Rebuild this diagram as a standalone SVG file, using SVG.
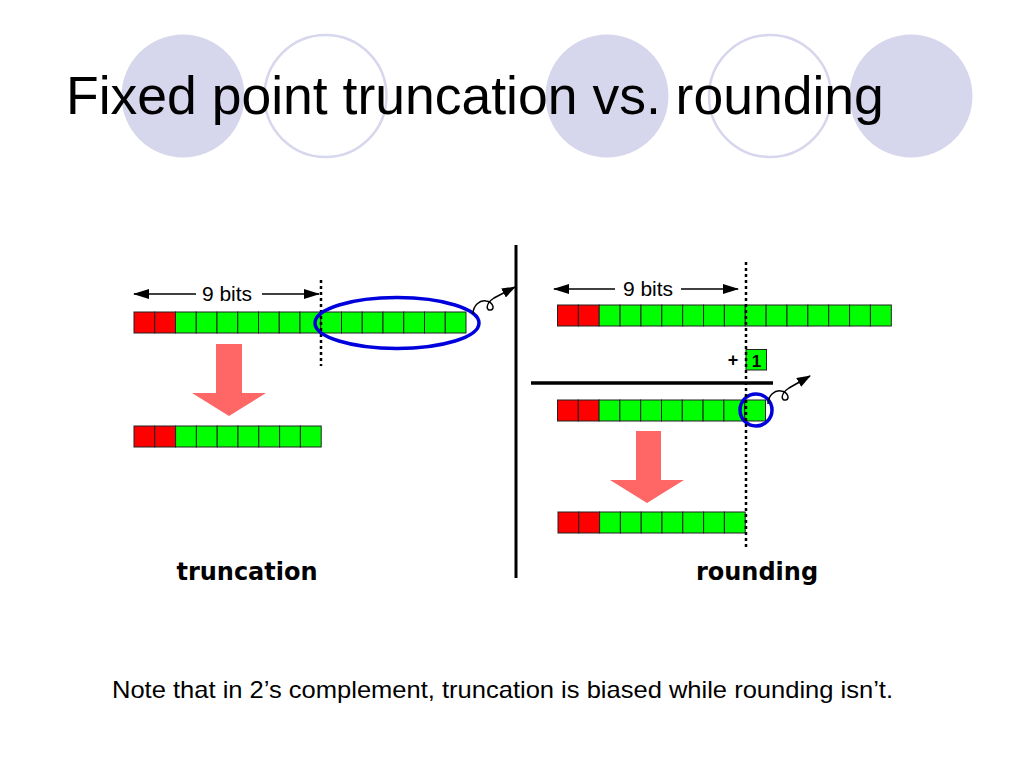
<svg xmlns="http://www.w3.org/2000/svg" width="1024" height="768" viewBox="0 0 1024 768">
<defs>
<style>
.bg{fill:#d6d6ec}
.ring{fill:none;stroke:#d6d6ec;stroke-width:2.5}
.title{font-family:"Liberation Sans",Arial,sans-serif;font-size:53.5px;fill:#000}
.note{font-family:"Liberation Sans",Arial,sans-serif;font-size:24px;fill:#000}
.bits{font-family:"Liberation Sans",Arial,sans-serif;font-size:21px;fill:#000}
.lbl{font-family:"DejaVu Sans",Verdana,sans-serif;font-size:24px;font-weight:bold;fill:#000}
.r{fill:#ff0000;stroke:#222;stroke-width:1}
.g{fill:#00ff00;stroke:#222;stroke-width:1}
.dot{stroke:#000;stroke-width:2.5;stroke-dasharray:3 3;fill:none}
.line{stroke:#000;fill:none}
.big{fill:#ff6666}
.blue{fill:none;stroke:#0000dd;stroke-width:3.5}
.curl{fill:none;stroke:#000;stroke-width:1.5}
</style>
<marker id="ah" viewBox="0 0 16 10" refX="15" refY="5" markerWidth="16" markerHeight="10" markerUnits="userSpaceOnUse" orient="auto">
<path d="M0,0 L16,5 L0,10 Z" fill="#000"/>
</marker>
<marker id="ah2" viewBox="0 0 14 10" refX="13" refY="5" markerWidth="14" markerHeight="10" markerUnits="userSpaceOnUse" orient="auto">
<path d="M0,0 L14,5 L0,10 Z" fill="#000"/>
</marker>
<g id="cells16">
<rect class="r" x="0" y="0" width="20.8" height="21"/>
<rect class="r" x="20.8" y="0" width="20.8" height="21"/>
<rect class="g" x="41.6" y="0" width="20.8" height="21"/>
<rect class="g" x="62.4" y="0" width="20.8" height="21"/>
<rect class="g" x="83.2" y="0" width="20.8" height="21"/>
<rect class="g" x="104" y="0" width="20.8" height="21"/>
<rect class="g" x="124.8" y="0" width="20.8" height="21"/>
<rect class="g" x="145.6" y="0" width="20.8" height="21"/>
<rect class="g" x="166.4" y="0" width="20.8" height="21"/>
<rect class="g" x="187.2" y="0" width="20.8" height="21"/>
<rect class="g" x="208" y="0" width="20.8" height="21"/>
<rect class="g" x="228.8" y="0" width="20.8" height="21"/>
<rect class="g" x="249.6" y="0" width="20.8" height="21"/>
<rect class="g" x="270.4" y="0" width="20.8" height="21"/>
<rect class="g" x="291.2" y="0" width="20.8" height="21"/>
<rect class="g" x="312" y="0" width="20.8" height="21"/>
</g>
<g id="cells9">
<rect class="r" x="0" y="0" width="20.8" height="21"/>
<rect class="r" x="20.8" y="0" width="20.8" height="21"/>
<rect class="g" x="41.6" y="0" width="20.8" height="21"/>
<rect class="g" x="62.4" y="0" width="20.8" height="21"/>
<rect class="g" x="83.2" y="0" width="20.8" height="21"/>
<rect class="g" x="104" y="0" width="20.8" height="21"/>
<rect class="g" x="124.8" y="0" width="20.8" height="21"/>
<rect class="g" x="145.6" y="0" width="20.8" height="21"/>
<rect class="g" x="166.4" y="0" width="20.8" height="21"/>
</g>
</defs>
<rect width="1024" height="768" fill="#fff"/>
<g id="decor">
<circle class="bg" cx="183" cy="96" r="61.5"/>
<circle class="ring" cx="325.5" cy="96" r="61"/>
<circle class="bg" cx="607" cy="96" r="61.5"/>
<circle class="ring" cx="770" cy="96" r="61"/>
<circle class="bg" cx="911" cy="96" r="61.5"/>
</g>
<text id="title" class="title" x="66" y="114">Fixed point truncation vs. rounding</text>

<g id="trunc-input">
<use href="#cells16" x="134" y="312" transform="translate(134,312) scale(0.9976,1) translate(-134,-312)"/>
</g>
<g id="trunc-output">
<use href="#cells9" x="134" y="426"/>
</g>
<g id="trunc-cut">
<line class="dot" x1="321" y1="280" x2="321" y2="366"/>
<ellipse class="blue" cx="397" cy="323" rx="82" ry="25.5"/>
</g>

<g id="separator">
<line class="line" x1="516" y1="245" x2="516" y2="578" stroke-width="3"/>
</g>

<g id="round-input">
<use href="#cells16" x="557.5" y="305" transform="translate(557.5,305) scale(1.003,1) translate(-557.5,-305)"/>
</g>
<g id="round-plus-one">
<text x="733" y="366" text-anchor="middle" font-family="'Liberation Sans',Arial,sans-serif" font-weight="bold" font-size="18">+</text>
<rect class="g" x="746" y="349.5" width="20.5" height="20.5"/>
<text x="756.5" y="366.5" text-anchor="middle" font-family="'Liberation Sans',Arial,sans-serif" font-weight="bold" font-size="17">1</text>
</g>
<g id="round-sum-line">
<line class="line" x1="531" y1="383" x2="773" y2="383" stroke-width="3.5"/>
</g>
<g id="round-sum">
<use href="#cells9" x="557.5" y="400"/>
<rect class="g" x="744.7" y="400" width="20.8" height="21"/>
<circle class="blue" cx="756" cy="410" r="16"/>
</g>
<g id="round-output">
<use href="#cells9" x="558" y="512"/>
</g>
<g id="round-cut">
<line class="dot" x1="746" y1="262" x2="746" y2="549"/>
</g>

<g id="connectors">
<line class="line" x1="196" y1="294" x2="134" y2="294" stroke-width="1.5" marker-end="url(#ah)"/>
<line class="line" x1="262" y1="294" x2="319" y2="294" stroke-width="1.5" marker-end="url(#ah)"/>
<line class="line" x1="615" y1="289" x2="554" y2="289" stroke-width="1.5" marker-end="url(#ah)"/>
<line class="line" x1="681" y1="289" x2="738" y2="289" stroke-width="1.5" marker-end="url(#ah)"/>
<polygon class="big" points="216,344 242,344 242,393 266,393 229,416 192,393 216,393"/>
<polygon class="big" points="636,431 661,431 661,480 684,480 647,503 610,480 636,480"/>
<path class="curl" d="M473,314 C473,305 480,300 486,301 C493,302 495,309 491,310 C486,311 485,304 494,298 L515,287" marker-end="url(#ah2)"/>
<path class="curl" d="M768,404 C768,395 775,390 781,391 C788,392 790,399 786,400 C781,401 780,394 789,388 L810,376" marker-end="url(#ah2)"/>
</g>

<text class="bits" x="227" y="301" text-anchor="middle">9 bits</text>
<text class="bits" x="648" y="296" text-anchor="middle">9 bits</text>
<text class="lbl" x="247" y="580" text-anchor="middle">truncation</text>
<text class="lbl" x="757" y="580" text-anchor="middle">rounding</text>
<text class="note" x="112" y="698" textLength="781" lengthAdjust="spacingAndGlyphs">Note that in 2’s complement, truncation is biased while rounding isn’t.</text>
</svg>
